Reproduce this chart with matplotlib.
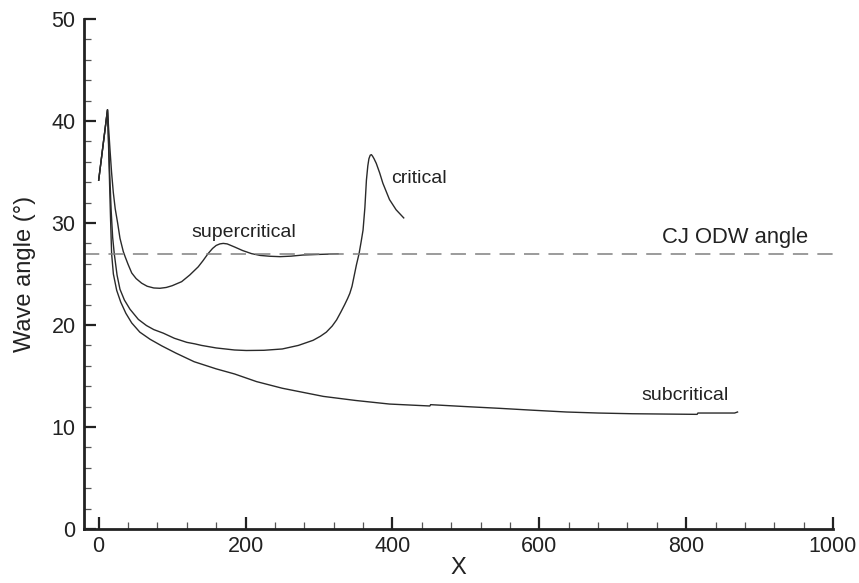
import matplotlib
matplotlib.use("Agg")
import matplotlib.pyplot as plt
from matplotlib.ticker import MultipleLocator

plt.rcParams['font.family'] = ['Liberation Sans', 'DejaVu Sans']

# wave angle along X for the three inflow cases
x_super = [0, 12, 13.5, 15.4, 17.5, 19.9, 22.5, 25.8, 29, 33.5, 36, 40, 45, 51, 58.5, 66,
           75, 83.4, 92, 100, 113, 124, 135.5, 142, 149, 155, 160, 165, 169.6, 175, 185,
           196, 208, 220, 233, 247, 262, 278, 300, 326]
y_super = [34.2, 41.1, 39.3, 37.2, 35.0, 33.0, 31.4, 30.0, 28.5, 27.2, 26.7, 25.95, 25.1,
           24.55, 24.1, 23.8, 23.63, 23.6, 23.68, 23.85, 24.25, 24.9, 25.7, 26.3, 27.0,
           27.5, 27.8, 27.95, 28.0, 27.95, 27.65, 27.3, 27.0, 26.82, 26.74, 26.7, 26.75,
           26.86, 26.92, 26.98]

x_crit = [0, 12, 13.5, 15, 17, 19, 21.2, 25, 29, 35, 42.6, 54, 65, 75, 88, 103, 120, 131,
          140, 160, 185, 201, 225, 250, 272, 292, 302, 310, 318, 324, 330, 335, 339, 342,
          345, 347, 349, 351, 354.6, 357.5, 360, 362.5, 364.6, 366.5, 368, 369.8, 371.4,
          373, 375, 378, 382.7, 387, 396, 405, 415.4]
y_crit = [34.2, 41.1, 38.0, 34.8, 31.2, 28.6, 27.0, 24.9, 23.5, 22.45, 21.55, 20.55, 19.95,
          19.55, 19.2, 18.7, 18.3, 18.15, 18.0, 17.75, 17.55, 17.5, 17.52, 17.65, 18.0,
          18.5, 18.9, 19.3, 19.9, 20.5, 21.3, 22.0, 22.6, 23.1, 23.8, 24.5, 25.2, 25.9,
          27.0, 28.2, 29.3, 31.5, 34.2, 35.6, 36.3, 36.65, 36.7, 36.55, 36.3, 35.85, 34.9,
          33.9, 32.3, 31.3, 30.5]

x_sub = [0, 12, 13.3, 14.6, 16, 17.6, 20, 24.5, 30, 37, 45, 56, 70, 86, 105, 130, 160,
         185, 201, 215, 250, 306, 350, 396, 451, 452, 500, 546, 590, 637, 680, 727, 770,
         815, 816, 866, 870]
y_sub = [34.2, 41.1, 38.0, 34.5, 30.8, 27.0, 25.0, 23.4, 22.25, 21.15, 20.2, 19.3, 18.6,
         17.95, 17.25, 16.4, 15.7, 15.2, 14.8, 14.45, 13.8, 13.0, 12.6, 12.25, 12.06, 12.19,
         12.0, 11.83, 11.65, 11.47, 11.37, 11.3, 11.27, 11.24, 11.37, 11.37, 11.47]

cj_angle = 27.0

fig = plt.figure(figsize=(8.59, 5.83), dpi=100)
ax = fig.add_axes([84 / 859, 54 / 583, 749 / 859, 510 / 583])

line_kw = dict(color='#2a2a2a', lw=1.0)
ax.plot(x_super, y_super, **line_kw)
ax.plot(x_crit, y_crit, **line_kw)
ax.plot(x_sub, y_sub, **line_kw)
ax.axhline(cj_angle, color='#808080', lw=1.1, dashes=(10, 6))

ax.text(197, 28.66, 'supercritical', fontsize=14, ha='center', va='baseline', color='#222222')
ax.text(436.5, 33.95, 'critical', fontsize=14, ha='center', va='baseline', color='#222222')
ax.text(798, 12.65, 'subcritical', fontsize=14, ha='center', va='baseline', color='#222222')
ax.text(866, 28.0, 'CJ ODW angle', fontsize=15.8, ha='center', va='baseline', color='#222222')

ax.set_xlim(-20, 1000)
ax.set_ylim(0, 50)
ax.xaxis.set_major_locator(MultipleLocator(200))
ax.xaxis.set_minor_locator(MultipleLocator(40))
ax.yaxis.set_major_locator(MultipleLocator(10))
ax.yaxis.set_minor_locator(MultipleLocator(2))

for side in ['top', 'right']:
    ax.spines[side].set_visible(False)
for side in ['left', 'bottom']:
    ax.spines[side].set_linewidth(2.0)
    ax.spines[side].set_color('#222222')

ax.tick_params(which='major', direction='in', length=8.5, width=1.6, color='#222222',
               labelsize=15.5, labelcolor='#222222')
ax.tick_params(axis='x', which='major', pad=5)
ax.tick_params(axis='y', which='major', pad=6)
ax.tick_params(which='minor', direction='in', length=5, width=0.9, color='#555555')

ax.set_xlabel('X', fontsize=17, color='#222222', labelpad=0)
ax.set_ylabel('Wave angle (°)', fontsize=17, color='#222222', labelpad=11)

fig.savefig('out.png', dpi=100)
